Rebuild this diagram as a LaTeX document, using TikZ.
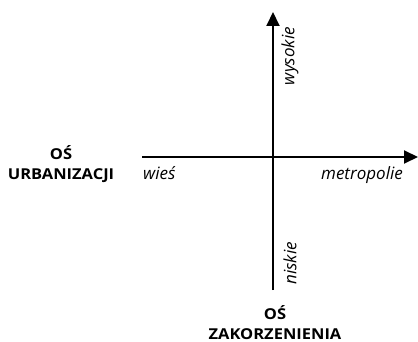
\documentclass[tikz,border=0pt]{standalone}
\usepackage{fontspec}
\setmainfont{Open Sans}
\usetikzlibrary{arrows.meta}
\begin{document}
\begin{tikzpicture}[x=1pt,y=-1pt,
  axis/.style={line width=2pt,-{Triangle[length=14pt,width=13pt]}},
  title/.style={font=\fontsize{15}{20}\selectfont\bfseries,align=center,xscale=1.1,inner sep=0pt},
  lab/.style={font=\fontsize{17}{20}\selectfont\itshape,inner sep=0pt}]
\useasboundingbox (0,0) rectangle (418,342);
\coordinate (hs) at (142,157);
\coordinate (he) at (418,157);
\coordinate (vs) at (273,290);
\coordinate (ve) at (273,12);
\draw[axis] (hs) -- (he);
\draw[axis] (vs) -- (ve);
\node[title] (urb) at (61,164) {OŚ\\URBANIZACJI};
\node[title] (zak) at (275,323) {OŚ\\ZAKORZENIENIA};
\node[lab,anchor=west] (wies) at (143,173) {wieś};
\node[lab,anchor=east] (metro) at (403,175) {metropolie};
\node[lab,rotate=90,anchor=east] (wys) at (290,27) {wysokie};
\node[lab,rotate=90,anchor=east] (nis) at (290,242) {niskie};
\end{tikzpicture}
\end{document}
